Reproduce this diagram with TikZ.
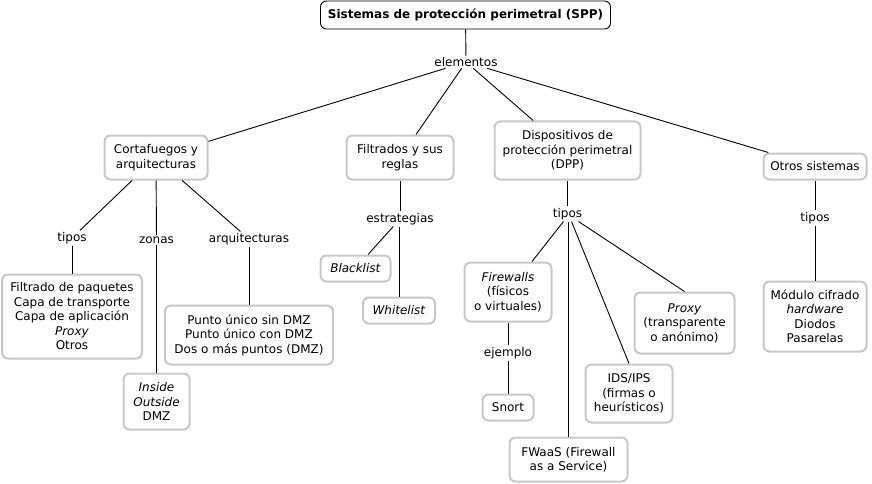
\documentclass[tikz,border=0pt]{standalone}
\usepackage{fontspec}
\setmainfont{DejaVu Sans}
\usepackage{tikz}
\usetikzlibrary{positioning}
\definecolor{boxgray}{RGB}{200,200,200}
\newcommand{\mapfont}{\fontsize{12}{14.5}\selectfont}
\tikzset{
  concept/.style={draw=boxgray, line width=2pt, rounded corners=6pt, align=center, inner sep=2pt, fill=white},
  rootconcept/.style={draw=black, line width=0.9pt, rounded corners=6pt, align=center, font=\mapfont\bfseries},
  linkword/.style={inner sep=1.5pt, align=center},
  link/.style={draw=black, line width=0.9pt}
}
\begin{document}
\begin{tikzpicture}[x=1pt,y=-1pt,font=\mapfont]
  \useasboundingbox (0,0) rectangle (872,484);
  % conceptos
  \node[rootconcept, minimum width=290pt, minimum height=28pt] (spp) at (465.5,15) {Sistemas de protección perimetral (SPP)};
  \node[linkword] (elem) at (466,62) {elementos};
  \node[concept, minimum width=103pt, minimum height=44pt] (corta) at (156,157.5) {Cortafuegos y\\arquitecturas};
  \node[concept, minimum width=107pt, minimum height=44pt] (filtr) at (400,157.5) {Filtrados y sus\\reglas};
  \node[concept, minimum width=146pt, minimum height=58pt] (dpp) at (567.5,150.5) {Dispositivos de\\protección perimetral\\(DPP)};
  \node[concept, minimum width=103pt, minimum height=26pt] (otros) at (815,166.5) {Otros sistemas};
  % cortafuegos
  \node[linkword] (tiposa) at (72,238) {tipos};
  \node[linkword] (zonas) at (156.5,240) {zonas};
  \node[linkword] (arq) at (249,239) {arquitecturas};
  \node[concept, minimum width=140pt, minimum height=84pt] (paq) at (72,316.5) {Filtrado de paquetes\\Capa de transporte\\Capa de aplicación\\\textit{Proxy}\\Otros};
  \node[concept, minimum width=66pt, minimum height=56pt] (inside) at (156.5,401.5) {\textit{Inside}\\\textit{Outside}\\DMZ};
  \node[concept, minimum width=168pt, minimum height=59pt] (punto) at (249,335) {Punto único sin DMZ\\Punto único con DMZ\\Dos o más puntos (DMZ)};
  % filtrados
  \node[linkword] (estr) at (400,219) {estrategias};
  \node[concept, minimum width=70pt, minimum height=26pt] (black) at (355.5,268.5) {\textit{Blacklist}};
  \node[concept, minimum width=72pt, minimum height=26pt] (white) at (399,310.5) {\textit{Whitelist}};
  % dispositivos
  \node[linkword] (tiposb) at (567.5,214) {tipos};
  \node[concept, minimum width=87pt, minimum height=59pt] (firew) at (508,292) {\textit{Firewalls}\\(físicos\\o virtuales)};
  \node[linkword] (ejem) at (508,353) {ejemplo};
  \node[concept, minimum width=51pt, minimum height=26pt] (snort) at (508,407.5) {Snort};
  \node[concept, minimum width=118pt, minimum height=44pt] (fwaas) at (568.5,459.5) {FWaaS (Firewall\\as a Service)};
  \node[concept, minimum width=87pt, minimum height=58pt] (ids) at (629,393.5) {IDS/IPS\\(firmas o\\heurísticos)};
  \node[concept, minimum width=100pt, minimum height=61pt] (proxy) at (684.5,323) {\textit{Proxy}\\(transparente\\o anónimo)};
  % otros
  \node[linkword] (tiposc) at (815,218) {tipos};
  \node[concept, minimum width=103pt, minimum height=70pt] (modulo) at (815,316.5) {Módulo cifrado\\\textit{hardware}\\Diodos\\Pasarelas};
  % enlaces
  \path[link]
    (spp) edge (elem)
    (elem) edge (corta)
    (elem) edge ([xshift=16pt]filtr.north)
    (elem) edge (dpp)
    (elem) edge (otros)
    (corta) edge (tiposa)
    (corta) edge (zonas)
    (corta) edge (arq)
    (tiposa) edge (paq)
    (zonas) edge (inside)
    (arq) edge (punto)
    (filtr) edge (estr)
    (estr) edge (black)
    (estr.south -| white) edge (white)
    (dpp) edge (tiposb)
    ([xshift=-4pt]tiposb.south) edge ([xshift=24pt]firew.north)
    (tiposb.south -| fwaas) edge (fwaas)
    ([xshift=4pt]tiposb.south) edge (ids.north)
    ([xshift=11pt]tiposb.south) edge (proxy.north)
    (firew) edge (ejem)
    (ejem) edge (snort)
    (otros) edge (tiposc)
    (tiposc) edge (modulo);
\end{tikzpicture}
\end{document}
